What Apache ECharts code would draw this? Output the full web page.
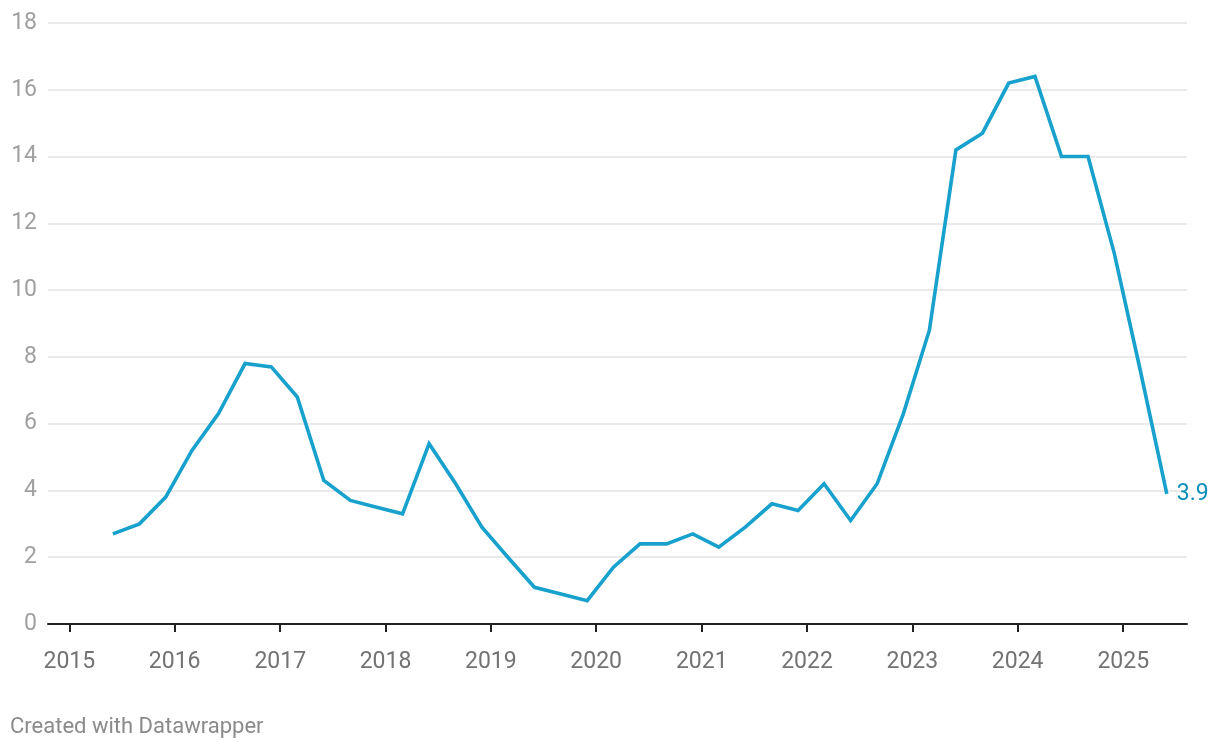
<!DOCTYPE html>
<html>
<head>
<meta charset="utf-8">
<script src="https://cdn.jsdelivr.net/npm/echarts@6/dist/echarts.min.js"></script>
<style>
html,body{margin:0;padding:0;background:#fff;}
#chart{width:1220px;height:750px;}
</style>
</head>
<body>
<div id="chart"></div>
<script>
const dates = [
 '2015-06-01','2015-09-01','2015-12-01',
 '2016-03-01','2016-06-01','2016-09-01','2016-12-01',
 '2017-03-01','2017-06-01','2017-09-01','2017-12-01',
 '2018-03-01','2018-06-01','2018-09-01','2018-12-01',
 '2019-03-01','2019-06-01','2019-09-01','2019-12-01',
 '2020-03-01','2020-06-01','2020-09-01','2020-12-01',
 '2021-03-01','2021-06-01','2021-09-01','2021-12-01',
 '2022-03-01','2022-06-01','2022-09-01','2022-12-01',
 '2023-03-01','2023-06-01','2023-09-01','2023-12-01',
 '2024-03-01','2024-06-01','2024-09-01','2024-12-01',
 '2025-03-01','2025-06-01'
];
const values = [
 2.7, 3.0, 3.8,
 5.2, 6.3, 7.8, 7.7,
 6.8, 4.3, 3.7, 3.5,
 3.3, 5.4, 4.2, 2.9,
 2.0, 1.1, 0.9, 0.7,
 1.7, 2.4, 2.4, 2.7,
 2.3, 2.9, 3.6, 3.4,
 4.2, 3.1, 4.2, 6.3,
 8.8, 14.2, 14.7, 16.2,
 16.4, 14.0, 14.0, 11.1,
 7.6, 3.9
];
const yTicks = [0, 2, 4, 6, 8, 10, 12, 14, 16, 18];
const footer = 'Created with Datawrapper';

const font = 'Roboto, "Noto Sans", sans-serif';
const chart = echarts.init(document.getElementById('chart'));
const seriesData = dates.map((d, i) => [d, values[i]]);

chart.setOption({
  animation: false,
  backgroundColor: '#ffffff',
  grid: { left: 48, right: 33, top: 23, bottom: 126, containLabel: false },
  graphic: [{
    type: 'text', left: 10, top: 716,
    style: { text: footer, fill: '#8a8a8a', font: '22px ' + font }
  }],
  xAxis: {
    type: 'time',
    min: new Date('2014-10-19').getTime(),
    max: new Date('2025-08-10').getTime(),
    minInterval: 365 * 86400000,
    maxInterval: 366 * 86400000,
    axisLine: { show: true, lineStyle: { color: '#222', width: 2 } },
    axisTick: { show: true, length: 8, lineStyle: { color: '#222', width: 2 } },
    splitLine: { show: false },
    axisLabel: {
      color: '#737373', fontSize: 23, fontFamily: font, margin: 27,
      formatter: function (v) { return String(new Date(v).getFullYear()); },
      hideOverlap: false, showMinLabel: false, showMaxLabel: false
    }
  },
  yAxis: {
    type: 'value', min: yTicks[0], max: yTicks[yTicks.length - 1], interval: 2,
    axisLine: { show: false }, axisTick: { show: false },
    splitLine: { lineStyle: { color: '#e3e3e3', width: 1.5 } },
    axisLabel: { color: '#a0a0a0', fontSize: 23, fontFamily: font, margin: 11, align: 'right' }
  },
  series: [{
    type: 'line',
    data: seriesData,
    showSymbol: false,
    symbol: 'none',
    lineStyle: { color: '#18a1cd', width: 3.6, join: 'miter' },
    endLabel: {
      show: true, distance: 10,
      formatter: function (p) { return String(p.value[1]); },
      color: '#0d8fbb', fontSize: 23, fontFamily: font
    },
    z: 5
  }]
});
</script>
</body>
</html>
